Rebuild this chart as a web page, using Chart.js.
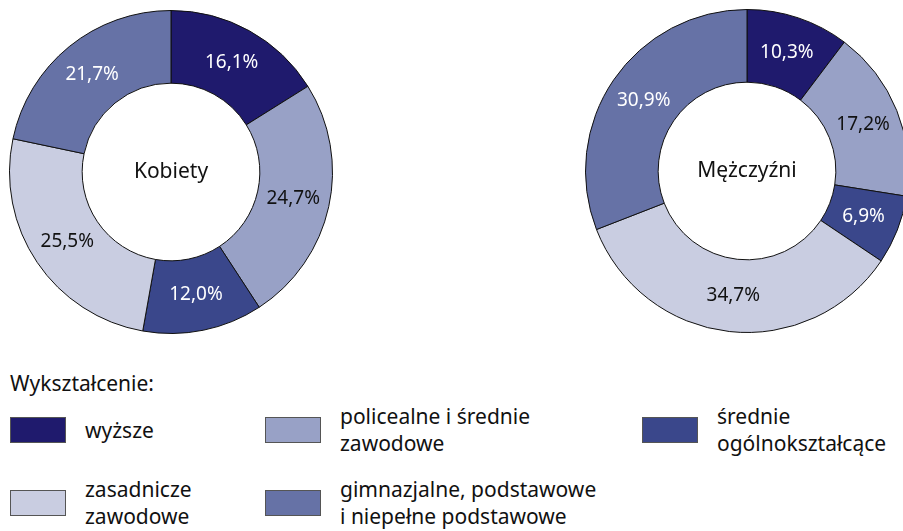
<!DOCTYPE html>
<html>
<head>
<meta charset="utf-8">
<script src="https://cdn.jsdelivr.net/npm/chart.js@4"></script>
<style>
  html, body { margin: 0; padding: 0; background: #fff; width: 903px; height: 531px; overflow: hidden; }
  body { position: relative; font-family: "Noto Sans", sans-serif; color: #111; }
  canvas { position: absolute; }
  #kob { left: 9px; top: 10px; }
  #mez { left: 585px; top: 9px; }
  .title { position: absolute; left: 10px; top: 369px; font-size: 21px; }
  .item { position: absolute; font-size: 21px; line-height: 27px; }
  .sw { position: absolute; width: 56px; height: 26px; box-sizing: border-box; border: 1px solid #555; }
</style>
</head>
<body>
<canvas id="kob" width="324" height="324"></canvas>
<canvas id="mez" width="324" height="324"></canvas>
<div class="title">Wykształcenie:</div>
<div id="legend"></div>
<script>
// kategorie wykształcenia
const categories = ['wyższe', 'policealne i średnie zawodowe', 'średnie ogólnokształcące', 'zasadnicze zawodowe', 'gimnazjalne, podstawowe i niepełne podstawowe'];
const kobiety = [16.1, 24.7, 12.0, 25.5, 21.7];
const mezczyzni = [10.3, 17.2, 6.9, 34.7, 30.9];
const colors = ['#1f1a6d', '#98a1c6', '#3a478b', '#c9cde1', '#6672a6'];
const labelColors = ['#fff', '#111', '#fff', '#111', '#fff'];

// etykiety wartosci na wycinkach + napis w srodku
const labelPlugin = {
    id: 'labels',
    afterDatasetsDraw(chart, args, opts) {
        let ctx = chart.ctx;
        let meta = chart.getDatasetMeta(0);
        ctx.save();
        ctx.font = '19px "Noto Sans", sans-serif';
        ctx.textAlign = 'center';
        ctx.textBaseline = 'middle';
        meta.data.forEach(function (arc, i) {
            let p = arc.getCenterPoint();
            ctx.fillStyle = labelColors[i];
            let v = chart.data.datasets[0].data[i].toFixed(1).replace('.', ',') + '%';
            ctx.fillText(v, p.x, p.y);
        });
        let c = meta.data[0];
        ctx.fillStyle = '#111';
        ctx.font = '21px "Noto Sans", sans-serif';
        ctx.fillText(opts.text, c.x, c.y);
        ctx.restore();
    }
};

function makeChart(id, values, name) {
    return new Chart(document.getElementById(id), {
        type: 'doughnut',
        data: {
            labels: categories,
            datasets: [{
                data: values,
                backgroundColor: colors,
                borderColor: '#111',
                borderWidth: 1
            }]
        },
        options: {
            responsive: false,
            animation: false,
            cutout: '55%',
            layout: { padding: 0 },
            plugins: {
                legend: { display: false },
                tooltip: { enabled: false },
                labels: { text: name }
            }
        },
        plugins: [labelPlugin]
    });
}

makeChart('kob', kobiety, 'Kobiety');
makeChart('mez', mezczyzni, 'Mężczyźni');

// legenda
const legendPos = [[10, 417, ['wyższe']], [265, 417, ['policealne i średnie', 'zawodowe']], [642, 417, ['średnie', 'ogólnokształcące']],
    [10, 490, ['zasadnicze', 'zawodowe']], [265, 490, ['gimnazjalne, podstawowe', 'i niepełne podstawowe']]];
let html = '';
for (let i = 0; i < categories.length; i++) {
    let x = legendPos[i][0], y = legendPos[i][1], lines = legendPos[i][2];
    html += '<div class="sw" style="left:' + x + 'px;top:' + y + 'px;background:' + colors[i] + '"></div>';
    let ty = lines.length == 1 ? y : y - 14;
    html += '<div class="item" style="left:' + (x + 75) + 'px;top:' + ty + 'px">' + lines.join('<br>') + '</div>';
}
document.getElementById('legend').innerHTML = html;
</script>
</body>
</html>
